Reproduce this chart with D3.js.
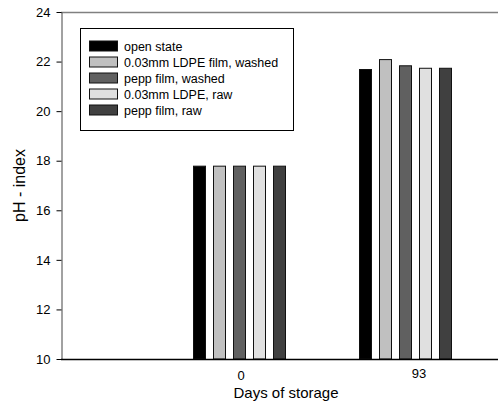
<!DOCTYPE html>
<html lang="en">
<head>
<meta charset="utf-8"/>
<title>pH index by days of storage</title>
<script src="https://d3js.org/d3.v7.min.js"></script>
<style>
  body { margin: 0; background: #fff; }
  text { font-family: "Liberation Sans", Arial, sans-serif; fill: #000; }
  .yaxis .domain { stroke: #444; }
  .yaxis line { stroke: #000; }
  .xaxis .domain { display: none; }
</style>
</head>
<body>
<div id="chart"></div>
<script>
// data
var days = ["0", "93"];
var series = ["open state", "0.03mm LDPE film, washed", "pepp film, washed", "0.03mm LDPE, raw", "pepp film, raw"];
var fills = ["#000000", "#c0c0c0", "#606060", "#e0e0e0", "#404040"];
var values = [
  [17.8, 17.8, 17.8, 17.8, 17.8],     // day 0
  [21.7, 22.1, 21.85, 21.75, 21.75]   // day 93
];
var yTicks = [10, 12, 14, 16, 18, 20, 22, 24];

var width = 499, height = 409;
var plot = {left: 61, right: 498, top: 12, bottom: 359};

var svg = d3.select("#chart").append("svg")
    .attr("width", width)
    .attr("height", height);

var y = d3.scaleLinear().domain([10, 24]).range([plot.bottom, plot.top]);

// groups sit off-centre in the plot, as in the original
var x = d3.scaleBand().domain(days).range([157, 489]).padding(0);
var xi = d3.scaleBand().domain(series).range([36, 129]).paddingInner(0.35).paddingOuter(0);
var color = d3.scaleOrdinal().domain(series).range(fills);

// top frame line
svg.append("line")
    .attr("x1", plot.left).attr("x2", plot.right)
    .attr("y1", plot.top + 0.5).attr("y2", plot.top + 0.5)
    .attr("stroke", "#808080").attr("stroke-width", 1.5);

// bars
var rows = days.map(function(d, i) {
  return { day: d, vals: series.map(function(s, j) { return { key: s, value: values[i][j] }; }) };
});

svg.append("g")
  .selectAll("g")
  .data(rows)
  .enter().append("g")
    .attr("transform", function(d) { return "translate(" + x(d.day) + ",0)"; })
  .selectAll("rect")
  .data(function(d) { return d.vals; })
  .enter().append("rect")
    .attr("x", function(d) { return xi(d.key) + 0.5; })
    .attr("y", function(d) { return y(d.value) + 0.5; })
    .attr("width", xi.bandwidth() - 1)
    .attr("height", function(d) { return y(10) - y(d.value) - 0.5; })
    .attr("fill", function(d) { return color(d.key); })
    .attr("stroke", "#111")
    .attr("stroke-width", 1);

// y axis
svg.append("g")
    .attr("class", "yaxis")
    .attr("transform", "translate(" + (plot.left + 0.5) + ",0)")
    .call(d3.axisLeft(y).tickValues(yTicks).tickSize(5).tickSizeOuter(0).tickPadding(6))
    .selectAll("text")
      .style("font-size", "13px");

// bottom line
svg.append("line")
    .attr("x1", plot.left).attr("x2", plot.right)
    .attr("y1", plot.bottom + 0.5).attr("y2", plot.bottom + 0.5)
    .attr("stroke", "#000").attr("stroke-width", 1.5);

// x axis labels
var xa = svg.append("g")
    .attr("class", "xaxis")
    .attr("transform", "translate(0," + plot.bottom + ")")
    .call(d3.axisBottom(x).tickSize(0).tickPadding(12));
xa.selectAll("text")
    .style("font-size", "13px")
    .attr("dx", function(d) { return d === "93" ? 13 : 1; })
    .attr("dy", function(d) { return d === "93" ? "0.5em" : "0.71em"; });

// axis titles
svg.append("text")
    .attr("x", 286)
    .attr("y", 398)
    .attr("text-anchor", "middle")
    .style("font-size", "15px")
    .text("Days of storage");

svg.append("text")
    .attr("transform", "translate(25," + ((plot.top + plot.bottom) / 2) + ") rotate(-90)")
    .attr("text-anchor", "middle")
    .style("font-size", "16px")
    .text("pH - index");

// legend
var legend = svg.append("g");
legend.append("rect")
    .attr("x", 80.5).attr("y", 28.5)
    .attr("width", 213).attr("height", 102)
    .attr("fill", "#fff")
    .attr("stroke", "#000");

var item = legend.selectAll("g")
  .data(series)
  .enter().append("g")
    .attr("transform", function(d, i) { return "translate(0," + (46 + i * 16) + ")"; });

item.append("rect")
    .attr("x", 89.5).attr("y", -5)
    .attr("width", 28).attr("height", 10)
    .attr("fill", function(d) { return color(d); })
    .attr("stroke", "#111");

item.append("text")
    .attr("x", 124)
    .attr("dy", "0.36em")
    .style("font-size", "12.5px")
    .text(function(d) { return d; });
</script>
</body>
</html>
